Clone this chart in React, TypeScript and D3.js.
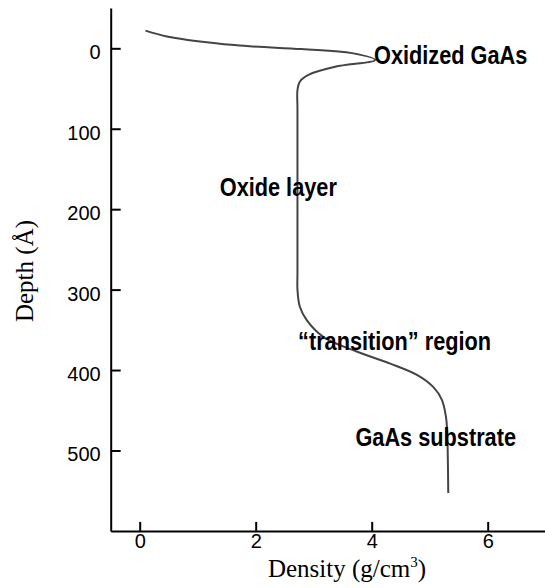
import React, { useEffect, useRef } from "react";
import * as d3 from "d3";

const densityValues = [0.10, 0.49, 1.64, 2.79, 3.66, 4.06, 3.37, 2.91, 2.76, 2.72, 2.72, 2.72, 2.72, 2.72, 2.76, 2.88, 3.17, 3.74, 4.32, 4.78, 5.06, 5.21, 5.28, 5.30, 5.32];
const depthValues = [-22, -14.5, -4, 1, 6, 14.6, 23, 33, 41.5, 52, 75, 200, 280, 300, 321, 338, 359, 377, 392, 406, 421, 437, 458, 475, 553];
const xTicks = [0, 2, 4, 6];
const yTicks = [0, 100, 200, 300, 400, 500];
const annotations = ["Oxidized GaAs", "Oxide layer", "\u201Ctransition\u201D region", "GaAs substrate"];
const annotationAnchors: [number, number][] = [[4.04, 19], [1.38, 184], [2.73, 375], [3.72, 494]];

const W = 545;
const H = 588;

export default function App() {
  const ref = useRef<SVGSVGElement>(null);
  useEffect(() => {
    const svg = d3.select(ref.current);
    svg.selectAll("*").remove();
    const x = d3.scaleLinear().domain([-0.5, 7]).range([110.7, 545.7]);
    const y = d3.scaleLinear().domain([-50, 600]).range([8.1, 530.9]);

    const font = "'Liberation Sans', Arial, Helvetica, sans-serif";
    // y axis
    const ya = svg.append("g").attr("transform", `translate(${x(-0.5)},0)`)
      .call(d3.axisLeft(y).tickValues(yTicks).tickSizeInner(-10).tickSizeOuter(0).tickPadding(10));
    ya.select(".domain").attr("stroke", "#000").attr("stroke-width", 2);
    ya.selectAll(".tick line").attr("stroke", "#000").attr("stroke-width", 2);
    ya.selectAll(".tick text").attr("font-family", font).attr("font-size", 20).attr("fill", "#000").attr("dy", "0.52em");

    // x axis
    const xa = svg.append("g").attr("transform", `translate(0,${y(600)})`)
      .call(d3.axisBottom(x).tickValues(xTicks).tickSizeInner(-9).tickSizeOuter(0).tickPadding(3).tickFormat(d3.format("d")));
    xa.select(".domain").attr("stroke", "#000").attr("stroke-width", 2);
    xa.selectAll(".tick line").attr("stroke", "#000").attr("stroke-width", 2);
    xa.selectAll(".tick text").attr("font-family", font).attr("font-size", 20).attr("fill", "#000");

    // curve
    const pts: [number, number][] = densityValues.map((d, i) => [d, depthValues[i]]);
    const path = d3.line<[number, number]>().x(d => x(d[0])).y(d => y(d[1])).curve(d3.curveCatmullRom.alpha(0.5));
    svg.append("path").attr("d", path(pts) as string).attr("fill", "none").attr("stroke", "#444").attr("stroke-width", 2);

    // annotations (condensed bold)
    annotations.forEach((t, i) => {
      svg.append("text")
        .attr("transform", `translate(${x(annotationAnchors[i][0])},${y(annotationAnchors[i][1])}) scale(0.82,1)`)
        .attr("font-family", font).attr("font-weight", "bold").attr("font-size", 26.5).attr("fill", "#000").text(t);
    });

    // titles
    const tfont = "'Liberation Serif', 'Times New Roman', Times, serif";
    const xt = svg.append("text").attr("x", 347).attr("y", 577).attr("text-anchor", "middle")
      .attr("font-family", tfont).attr("font-size", 25).attr("fill", "#000");
    xt.append("tspan").text("Density (g/cm");
    xt.append("tspan").attr("font-size", 15).attr("dy", -10).text("3");
    xt.append("tspan").attr("dy", 10).text(")");

    svg.append("text").attr("transform", `translate(33,271) rotate(-90)`).attr("text-anchor", "middle")
      .attr("font-family", tfont).attr("font-size", 25).attr("fill", "#000").text("Depth (\u00C5)");
  }, []);
  return (
    <svg ref={ref} width={W} height={H} style={{ position: "absolute", left: 0, top: 0, background: "#fff" }} />
  );
}
